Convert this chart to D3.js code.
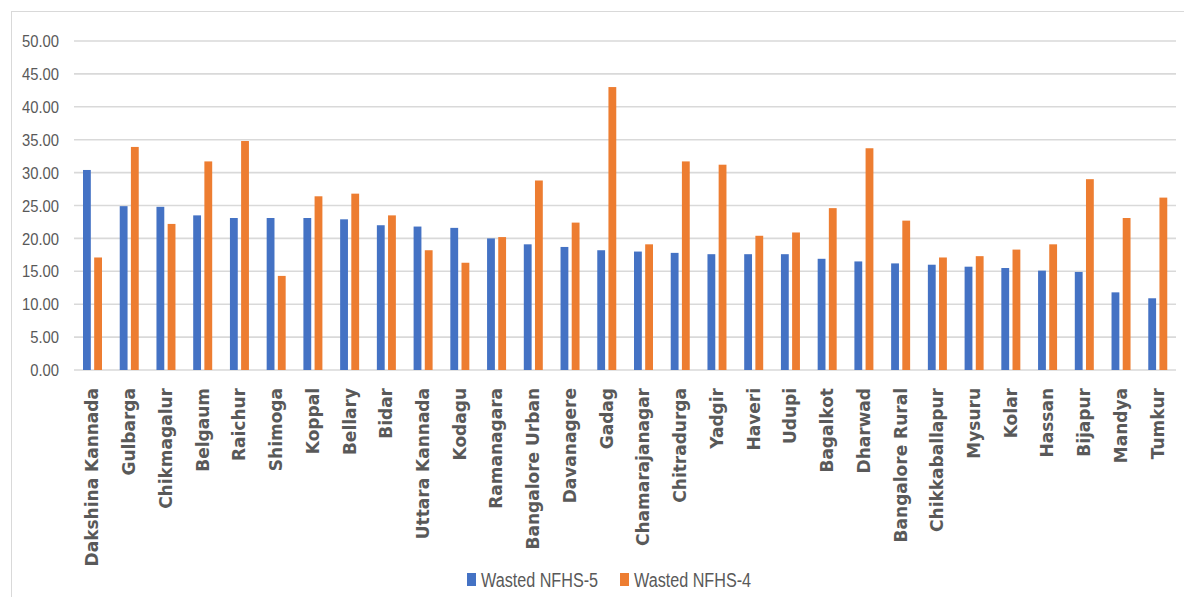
<!DOCTYPE html>
<html>
<head>
<meta charset="utf-8">
<script src="https://cdn.jsdelivr.net/npm/d3@7"></script>
<style>
  html, body { margin: 0; padding: 0; background: #fff; }
  svg { display: block; }
</style>
</head>
<body>
<svg id="chart" width="1184" height="597"></svg>
<script>
const categories = ["Dakshina Kannada","Gulbarga","Chikmagalur","Belgaum","Raichur","Shimoga","Koppal","Bellary","Bidar","Uttara Kannada","Kodagu","Ramanagara","Bangalore Urban","Davanagere","Gadag","Chamarajanagar","Chitradurga","Yadgir","Haveri","Udupi","Bagalkot","Dharwad","Bangalore Rural","Chikkaballapur","Mysuru","Kolar","Hassan","Bijapur","Mandya","Tumkur"];
const seriesNames = ["Wasted NFHS-5", "Wasted NFHS-4"];
const nfhs5 = [30.4,24.9,24.8,23.5,23.1,23.1,23.1,22.9,22.0,21.8,21.6,20.0,19.1,18.7,18.2,18.0,17.8,17.6,17.6,17.6,16.9,16.5,16.2,16.0,15.7,15.5,15.1,14.9,11.8,10.9];
const nfhs4 = [17.1,33.9,22.2,31.7,34.8,14.3,26.4,26.8,23.5,18.2,16.3,20.2,28.8,22.4,43.0,19.1,31.7,31.2,20.4,20.9,24.6,33.7,22.7,17.1,17.3,18.3,19.1,29.0,23.1,26.2];
const yTicks = [0,5,10,15,20,25,30,35,40,45,50];
const colors = ["#4472C4", "#ED7D31"];

const svg = d3.select("#chart");

// chart border
svg.append("rect").attr("x", 11.5).attr("y", 11.5).attr("width", 1180).attr("height", 590)
  .attr("fill", "none").attr("stroke", "#d9d9d9").attr("stroke-width", 1);

const x0 = d3.scaleBand().domain(categories).range([74, 1176]).padding(0);
const x1 = d3.scaleBand().domain(seriesNames).range([9, 28]).paddingInner(0.3);
const y = d3.scaleLinear().domain([0, 50]).range([370, 41]);

// gridlines
svg.append("g").selectAll("line").data(yTicks).join("line")
  .attr("x1", 74).attr("x2", 1176)
  .attr("y1", d => y(d)).attr("y2", d => y(d))
  .attr("stroke", "#d9d9d9").attr("stroke-width", 1.6);

// y labels
svg.append("g").selectAll("text").data(yTicks).join("text")
  .attr("transform", d => `translate(59,${y(d)}) scale(0.87,1)`)
  .attr("dy", "0.36em")
  .attr("text-anchor", "end")
  .attr("font-family", "'Liberation Sans', Arial, sans-serif")
  .attr("font-size", 17).attr("fill", "#595959")
  .text(d => d3.format(".2f")(d));

// bars
const data = categories.map((c, i) => ({cat: c, vals: [nfhs5[i], nfhs4[i]]}));
const groups = svg.append("g").selectAll("g").data(data).join("g")
  .attr("transform", d => `translate(${x0(d.cat)},0)`);
groups.selectAll("rect").data(d => d.vals.map((v, j) => ({s: seriesNames[j], v, j}))).join("rect")
  .attr("x", d => x1(d.s)).attr("width", x1.bandwidth())
  .attr("y", d => y(d.v)).attr("height", d => y(0) - y(d.v))
  .attr("fill", d => colors[d.j]);

// x labels
svg.append("g").selectAll("text").data(categories).join("text")
  .attr("transform", d => `translate(${x0(d) + x0.bandwidth()/2 + 6},388) rotate(-90)`)
  .attr("text-anchor", "end")
  .attr("font-family", "'DejaVu Sans', sans-serif").attr("font-weight", "bold")
  .attr("font-size", 17).attr("fill", "#595959")
  .text(d => d);

// legend
const legend = svg.append("g");
const lx = [467, 620];
seriesNames.forEach((s, i) => {
  legend.append("rect").attr("x", lx[i]).attr("y", 573).attr("width", 9).attr("height", 13).attr("fill", colors[i]);
  legend.append("text").attr("transform", `translate(${lx[i] + 14},587) scale(0.77,1)`)
    .attr("font-family", "'Liberation Sans', Arial, sans-serif")
    .attr("font-size", 21).attr("fill", "#595959").text(s);
});
</script>
</body>
</html>
